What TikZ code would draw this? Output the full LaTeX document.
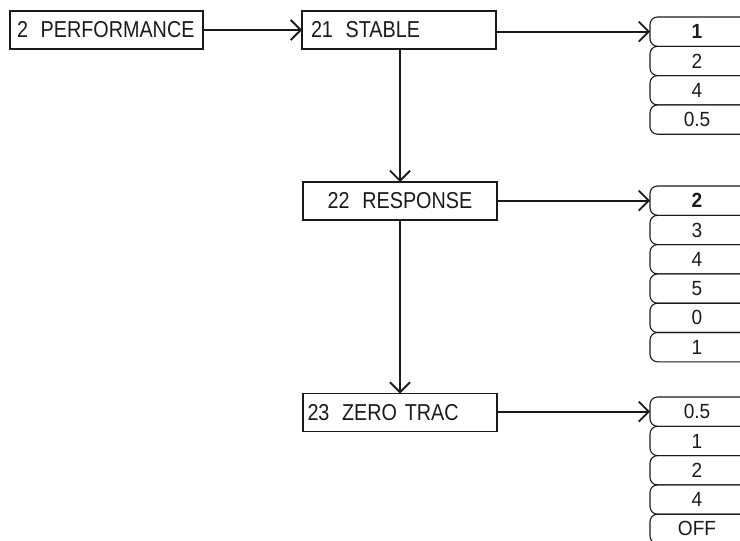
\documentclass[tikz,border=0pt]{standalone}
\usepackage{fontspec}
\setmainfont{Liberation Sans}[FakeStretch=0.86]
\newfontfamily\optfont{Liberation Sans}[FakeStretch=0.93]
\usetikzlibrary{arrows.meta}
\definecolor{ink}{HTML}{1A1A1A}
\newcommand\optlabel[1]{\makebox[94pt]{#1}\kern20pt}
\begin{document}
\begin{tikzpicture}[x=1pt,y=-1pt,
  box/.style={draw=ink, line width=1.2pt, minimum height=38pt, outer sep=0pt, inner ysep=0pt,
    font=\fontsize{23}{27}\selectfont, text=ink},
  opt/.style={draw=ink, line width=1.1pt, rounded corners=7.5pt, minimum width=114pt,
    minimum height=29.3pt, outer sep=0pt, inner sep=0pt, font=\optfont\fontsize{20.5}{24}\selectfont, text=ink},
  conn/.style={draw=ink, line width=1.8pt, -{Straight Barb[length=10pt,width=20pt,line width=1.8pt]}}
]
\useasboundingbox (0,0) rectangle (740,541);
\clip (0,0) rectangle (740,541);

% main boxes
\node[box, inner xsep=7pt, text width=179pt, align=left] (perf) at (106.5,30) {2\hspace{0.55em}PERFORMANCE};
\node[box, inner xsep=9pt, text width=176pt, align=left] (stab) at (399,30) {21\hspace{0.55em}STABLE};
\node[box, inner xsep=4pt, text width=186pt, align=center] (resp) at (400,201) {22\hspace{0.55em}RESPONSE};
\node[box, inner xsep=4.5pt, text width=185pt, align=left] (zero) at (400,412.5) {23\hspace{0.55em}ZERO TRAC};

% option stacks
\node[opt, anchor=north west] (s1) at (650,17) {\optlabel{\textbf{1}}};
\node[opt, anchor=north] (s2) at (s1.south) {\optlabel{2}};
\node[opt, anchor=north] (s3) at (s2.south) {\optlabel{4}};
\node[opt, anchor=north] (s4) at (s3.south) {\optlabel{0.5}};

\node[opt, anchor=north west] (r1) at (650,186) {\optlabel{\textbf{2}}};
\node[opt, anchor=north] (r2) at (r1.south) {\optlabel{3}};
\node[opt, anchor=north] (r3) at (r2.south) {\optlabel{4}};
\node[opt, anchor=north] (r4) at (r3.south) {\optlabel{5}};
\node[opt, anchor=north] (r5) at (r4.south) {\optlabel{0}};
\node[opt, anchor=north] (r6) at (r5.south) {\optlabel{1}};

\node[opt, anchor=north west] (z1) at (650,397) {\optlabel{0.5}};
\node[opt, anchor=north] (z2) at (z1.south) {\optlabel{1}};
\node[opt, anchor=north] (z3) at (z2.south) {\optlabel{2}};
\node[opt, anchor=north] (z4) at (z3.south) {\optlabel{4}};
\node[opt, anchor=north] (z5) at (z4.south) {\optlabel{OFF}};

% connectors
\draw[conn] (perf.east) -- (perf.east -| stab.west);
\draw[conn] (s1.west -| stab.east) -- (s1.west);
\draw[conn] (resp.north |- stab.south) -- (resp.north);
\draw[conn] (resp.south) -- (zero.north);
\draw[conn] (r1.west -| resp.east) -- (r1.west);
\draw[conn] (z1.west -| zero.east) -- (z1.west);
\end{tikzpicture}
\end{document}
